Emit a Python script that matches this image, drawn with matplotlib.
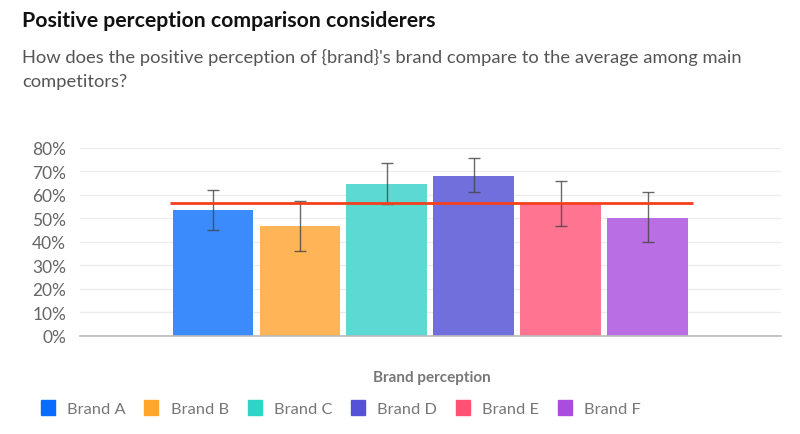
import matplotlib
matplotlib.use("Agg")
import matplotlib.pyplot as plt
from matplotlib.patches import Patch
from matplotlib.ticker import FuncFormatter

plt.rcParams['font.family'] = ['Lato', 'DejaVu Sans']

brands = ["Brand A", "Brand B", "Brand C", "Brand D", "Brand E", "Brand F"]
values = [53.7, 46.7, 64.7, 68.2, 56.2, 50.3]
err_low = [45.2, 36.3, 56.0, 61.3, 46.8, 39.9]
err_high = [62.2, 57.4, 73.6, 75.9, 66.1, 61.4]
average = 56.5
bar_colors = ["#3b8bfd", "#ffb457", "#5cd9d2", "#706fdb", "#ff7490", "#b96ee3"]
legend_colors = ["#0a6cff", "#ffa62b", "#2fd3c8", "#5552d9", "#ff5172", "#aa4ddf"]

fig = plt.figure(figsize=(8, 4.35), dpi=100)
ax = fig.add_axes([0.1, 0.2253, 0.876, 0.4322])

x = list(range(len(brands)))
ax.bar(x, values, width=0.93, color=bar_colors, zorder=2)
yerr = [[v - l for v, l in zip(values, err_low)], [h - v for v, h in zip(values, err_high)]]
ax.errorbar(x, values, yerr=yerr, fmt='none', ecolor='#444444', elinewidth=1,
            capsize=4, capthick=1, alpha=0.8, zorder=3)
ax.hlines(average, -0.5, 5.52, color='#f4401c', linewidth=2, zorder=4)

ax.set_xlim(-1.53, 6.53)
ax.set_ylim(0, 80)
ax.set_yticks(range(0, 81, 10))
ax.yaxis.set_major_formatter(FuncFormatter(lambda v, p: f"{int(v)}%"))
ax.set_xticks([])
ax.grid(axis='y', color='#ececec', linewidth=1, zorder=0)
for s in ['top', 'right', 'left']:
    ax.spines[s].set_visible(False)
ax.spines['bottom'].set_color('#bbbbbb')
ax.spines['bottom'].set_linewidth(1.2)
ax.tick_params(axis='y', length=0, labelsize=12.5, labelcolor='#666666', pad=10)

fig.text(0.54, 1 - 378 / 435, "Brand perception", ha='center', va='center',
         fontsize=11, color='#777777', fontweight='bold')

fig.text(22 / 800, 1 - 21 / 435, "Positive perception comparison considerers",
         ha='left', va='center', fontsize=15.3, fontweight='bold', color='#111111')
fig.text(22 / 800, 1 - 57 / 435,
         "How does the positive perception of {brand}'s brand compare to the average among main",
         ha='left', va='center', fontsize=13.2, color='#555555')
fig.text(22 / 800, 1 - 82 / 435, "competitors?",
         ha='left', va='center', fontsize=13.2, color='#555555')

handles = [Patch(facecolor=c, edgecolor=c, label=b) for c, b in zip(legend_colors, brands)]
leg = fig.legend(handles=handles, loc='center left', bbox_to_anchor=(0.051, 1 - 409 / 435),
                 ncol=6, frameon=False, fontsize=11.8, handlelength=0.85, handleheight=1.0,
                 handletextpad=0.75, columnspacing=1.15, borderaxespad=0, borderpad=0)
for t in leg.get_texts():
    t.set_color('#777777')

fig.savefig("out.png", dpi=100)
